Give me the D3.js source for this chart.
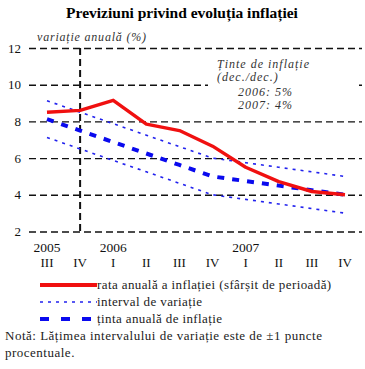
<!DOCTYPE html>
<html>
<head>
<meta charset="utf-8">
<script src="https://cdn.jsdelivr.net/npm/d3@7"></script>
<style>
  body { margin: 0; background: #fff; }
  svg { font-family: "Liberation Serif", serif; }
</style>
</head>
<body>
<svg id="chart" width="365" height="369"></svg>
<script>
// quarters on the x axis
var quarters = ["III", "IV", "I", "II", "III", "IV", "I", "II", "III", "IV"];
var years = [{label: "2005", at: 0}, {label: "2006", at: 2}, {label: "2007", at: 6}];
var yTicks = [2, 4, 6, 8, 10, 12];

// annual inflation rate (end of period), %
var inflation = [8.5, 8.6, 9.15, 7.85, 7.5, 6.65, 5.5, 4.72, 4.18, 4.0];
// annual inflation target
var target = [8.125, 7.5, 6.875, 6.25, 5.625, 5.0, 4.75, 4.5, 4.25, 4.0];
// variation interval
var upper = [9.125, 8.5, 7.875, 7.25, 6.625, 6.0, 5.75, 5.5, 5.25, 5.0];
var lower = [7.125, 6.5, 5.875, 5.25, 4.625, 4.0, 3.75, 3.5, 3.25, 3.0];

var legendItems = ["rata anuală a inflației (sfârșit de perioadă)", "interval de variație", "ținta anuală de inflație"];

var svg = d3.select("#chart");

var x = d3.scalePoint().domain(d3.range(quarters.length)).range([47, 345]);
var y = d3.scaleLinear().domain([2, 12]).range([231.5, 48]);

// title
svg.append("text")
  .attr("x", 182).attr("y", 18)
  .attr("text-anchor", "middle")
  .style("font-size", "15.5px").style("font-weight", "bold")
  .text("Previziuni privind evoluția inflației");

svg.append("text")
  .attr("x", 37).attr("y", 41)
  .style("font-size", "12px").style("font-style", "italic").style("letter-spacing", "0.8px").style("fill", "#333")
  .text("variație anuală (%)");

// horizontal grid
var yAxis = d3.axisLeft(y).tickValues(yTicks).tickSize(-333).tickPadding(8);
var gy = svg.append("g").attr("transform", "translate(29,0)").call(yAxis);
gy.select(".domain").remove();
gy.selectAll(".tick line")
  .attr("stroke", "#111").attr("stroke-width", 1.4).attr("stroke-dasharray", "7,4");
gy.selectAll(".tick text")
  .style("font-family", "Liberation Serif, serif").style("font-size", "13px").attr("fill", "#111");

// vertical marker at 2005 Q4
svg.append("line")
  .attr("x1", x(1)).attr("x2", x(1))
  .attr("y1", y(12)).attr("y2", y(2))
  .attr("stroke", "#111").attr("stroke-width", 2).attr("stroke-dasharray", "7,4");

// annotation box
svg.append("rect").attr("x", 208).attr("y", 56).attr("width", 151).attr("height", 57).attr("fill", "#fff");
var note = svg.append("g").style("font-size", "12px").style("font-style", "italic")
  .style("letter-spacing", "1px").style("fill", "#333");
note.append("text").attr("x", 217).attr("y", 68).text("Ținte de inflație");
note.append("text").attr("x", 217).attr("y", 81).text("(dec./dec.)");
note.append("text").attr("x", 293).attr("y", 96).attr("text-anchor", "end").text("2006: 5%");
note.append("text").attr("x", 293).attr("y", 109).attr("text-anchor", "end").text("2007: 4%");

var line = d3.line().x(function(d, i) { return x(i); }).y(function(d) { return y(d); });

[upper, lower].forEach(function(s) {
  svg.append("path").datum(s).attr("d", line)
    .attr("fill", "none").attr("stroke", "#2222ee").attr("stroke-width", 1.6)
    .attr("stroke-dasharray", "3,5");
});

svg.append("path").datum(target).attr("d", line)
  .attr("fill", "none").attr("stroke", "#0a0aee").attr("stroke-width", 4)
  .attr("stroke-dasharray", "7,8");

svg.append("path").datum(inflation).attr("d", line)
  .attr("fill", "none").attr("stroke", "#f01010").attr("stroke-width", 3.4)
  .attr("stroke-linejoin", "round");

// x labels
svg.selectAll(".q").data(quarters).enter().append("text")
  .attr("class", "q")
  .attr("x", function(d, i) { return x(i); }).attr("y", 267)
  .attr("text-anchor", "middle").style("font-size", "13px").attr("fill", "#111")
  .text(function(d) { return d; });
svg.selectAll(".yr").data(years).enter().append("text")
  .attr("class", "yr")
  .attr("x", function(d) { return x(d.at); }).attr("y", 252)
  .attr("text-anchor", "middle").style("font-size", "13.5px").attr("fill", "#111")
  .text(function(d) { return d.label; });

// legend
var legY = [285, 302, 319];
var styles = [
  {stroke: "#f01010", w: 4, dash: null},
  {stroke: "#2222ee", w: 1.6, dash: "3,5"},
  {stroke: "#0a0aee", w: 4, dash: "9,12"}
];
legendItems.forEach(function(t, i) {
  svg.append("line").attr("x1", 40).attr("x2", 97).attr("y1", legY[i]).attr("y2", legY[i])
    .attr("stroke", styles[i].stroke).attr("stroke-width", styles[i].w)
    .attr("stroke-dasharray", styles[i].dash);
  svg.append("text").attr("x", 97).attr("y", legY[i] + 4)
    .style("font-size", "13px").style("letter-spacing", "0.4px").attr("fill", "#222").text(t);
});

svg.append("text").attr("x", 5).attr("y", 340).style("font-size", "13px").style("letter-spacing", "0.5px").attr("fill", "#222")
  .text("Notă: Lățimea intervalului de variație este de ±1 puncte");
svg.append("text").attr("x", 5).attr("y", 357).style("font-size", "13px").style("letter-spacing", "0.5px").attr("fill", "#222")
  .text("procentuale.");
</script>
</body>
</html>
